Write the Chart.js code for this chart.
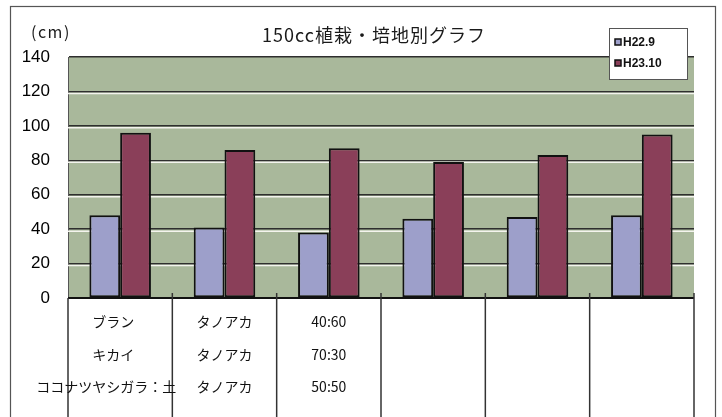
<!DOCTYPE html>
<html lang="ja">
<head>
    <meta charset="UTF-8">
    <title>150cc植栽・培地別グラフ</title>
    <script src="https://cdn.jsdelivr.net/npm/chart.js"></script>
    <style>
        body {
            margin: 0;
            background: #ffffff;
        }
        #box {
            width: 722px;
            height: 417px;
        }
    </style>
</head>
<body>
    <div id="box">
        <canvas id="growthChart" width="722" height="417"></canvas>
    </div>

    <script>
        // データ
        const categories = ['1', '2', '3', '4', '5', '6'];
        const seriesNames = ['H22.9', 'H23.10'];
        const h22Values = [48, 41, 38, 46, 47, 48];
        const h23Values = [96, 86, 87, 79, 83, 95];
        const yTicks = [0, 20, 40, 60, 80, 100, 120, 140];

        // 下の表（列ごとの行）
        const tableCol1 = ['ブラン', 'キカイ', 'ココナツヤシガラ：土　'];
        const tableCol2 = ['タノアカ', 'タノアカ', 'タノアカ'];
        const tableCol3 = ['40:60', '70:30', '50:50'];
        const tableRows = [tableCol1, tableCol2, tableCol3, [], [], []];

        const JP = '"Noto Sans CJK JP", "Liberation Sans", sans-serif';

        // 背景・グリッドの白線・表・タイトル・凡例
        const decoPlugin = {
            id: 'deco',
            beforeDraw(chart) {
                const { ctx, chartArea: a } = chart;
                ctx.save();
                ctx.fillStyle = '#a9b89b';
                ctx.fillRect(a.left, a.top, a.right - a.left, a.bottom - a.top);
                ctx.restore();
            },
            beforeDatasetsDraw(chart) {
                const { ctx, chartArea: a, scales } = chart;
                ctx.save();
                ctx.strokeStyle = '#f4f4ee';
                ctx.lineWidth = 1.5;
                yTicks.forEach(v => {
                    if (v === 0 || v === 140) return;
                    const y = scales.y.getPixelForValue(v) + 2;
                    ctx.beginPath();
                    ctx.moveTo(a.left, y);
                    ctx.lineTo(a.right, y);
                    ctx.stroke();
                });
                ctx.restore();
            },
            afterDraw(chart) {
                const { ctx, chartArea: a, scales } = chart;
                const x = scales.x;
                ctx.save();

                // 外枠
                ctx.strokeStyle = '#555';
                ctx.lineWidth = 1.2;
                ctx.strokeRect(10.5, 6.5, 705, 430);

                // 軸線
                ctx.strokeStyle = '#111';
                ctx.lineWidth = 2;
                ctx.beginPath();
                ctx.moveTo(a.left, a.bottom);
                ctx.lineTo(a.right, a.bottom);
                ctx.stroke();

                // 表の縦線
                ctx.strokeStyle = '#333';
                ctx.lineWidth = 1.5;
                const half = (x.getPixelForValue(1) - x.getPixelForValue(0)) / 2;
                for (let i = 0; i <= categories.length; i++) {
                    const px = i < categories.length ? x.getPixelForValue(i) - half : x.getPixelForValue(i - 1) + half;
                    ctx.beginPath();
                    ctx.moveTo(px, i === 0 ? a.bottom : a.bottom - 5);
                    ctx.lineTo(px, 417);
                    ctx.stroke();
                }

                // 表の文字
                ctx.fillStyle = '#111';
                ctx.font = '14px ' + JP;
                ctx.textAlign = 'center';
                ctx.textBaseline = 'middle';
                tableRows.forEach((col, i) => {
                    const cx = x.getPixelForValue(i) + (i === 0 ? -7 : 0);
                    col.forEach((t, r) => {
                        ctx.fillText(t, cx, 322 + r * 32.5);
                    });
                });

                // タイトルと単位
                ctx.font = '18px ' + JP;
                ctx.fillStyle = '#1a1a1a';
                ctx.letterSpacing = '1px';
                ctx.fillText('150cc植栽・培地別グラフ', 374, 35);
                ctx.letterSpacing = '1.5px';
                ctx.textAlign = 'left';
                ctx.font = '16px ' + JP;
                ctx.fillText('(cm)', 31, 32);
                ctx.letterSpacing = '0px';

                // 凡例
                ctx.fillStyle = '#fff';
                ctx.fillRect(609, 28, 78, 51);
                ctx.strokeStyle = '#555';
                ctx.lineWidth = 1;
                ctx.strokeRect(609.5, 28.5, 78, 51);
                ctx.font = 'bold 12px "Liberation Sans", sans-serif';
                chart.data.datasets.forEach((ds, i) => {
                    const ly = 42 + i * 21;
                    ctx.fillStyle = ds.backgroundColor;
                    ctx.fillRect(615, ly - 3, 6, 6);
                    ctx.strokeStyle = '#111';
                    ctx.lineWidth = 1.5;
                    ctx.strokeRect(615, ly - 3, 6, 6);
                    ctx.fillStyle = '#111';
                    ctx.fillText(ds.label, 623, ly + 1);
                });

                ctx.restore();
            }
        };

        new Chart(document.getElementById('growthChart'), {
            type: 'bar',
            data: {
                labels: categories,
                datasets: [
                    {
                        label: seriesNames[0],
                        data: h22Values,
                        backgroundColor: '#9d9fca',
                        borderColor: '#111',
                        borderWidth: 2,
                        borderSkipped: false
                    },
                    {
                        label: seriesNames[1],
                        data: h23Values,
                        backgroundColor: '#8a3f59',
                        borderColor: '#111',
                        borderWidth: 2,
                        borderSkipped: false
                    }
                ]
            },
            options: {
                responsive: false,
                animation: false,
                events: [],
                layout: {
                    padding: { left: 10, top: 57, right: 28, bottom: 119 }
                },
                datasets: {
                    bar: { categoryPercentage: 0.59, barPercentage: 1.0 }
                },
                plugins: {
                    legend: { display: false },
                    title: { display: false },
                    tooltip: { enabled: false }
                },
                scales: {
                    x: {
                        display: false
                    },
                    y: {
                        min: 0,
                        max: 140,
                        afterFit(scale) { scale.width = 58; },
                        afterBuildTicks(scale) { scale.ticks = yTicks.map(v => ({ value: v })); },
                        ticks: {
                            padding: 18,
                            color: '#000',
                            font: { family: '"Liberation Sans", sans-serif', size: 17 }
                        },
                        grid: {
                            color: '#2e2e2e',
                            lineWidth: 1.5,
                            drawTicks: false
                        },
                        border: { color: '#555', width: 1 }
                    }
                }
            },
            plugins: [decoPlugin]
        });
    </script>
</body>
</html>
